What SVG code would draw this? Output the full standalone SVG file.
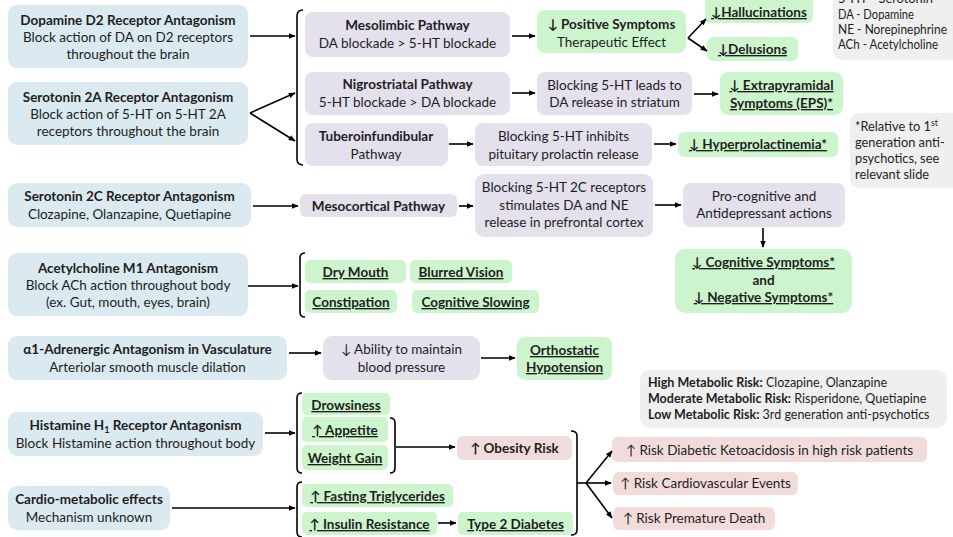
<svg xmlns="http://www.w3.org/2000/svg" width="953" height="537" viewBox="0 0 953 537">
<defs>
<marker id="ah" viewBox="0 0 10 10" refX="9" refY="5" markerWidth="7" markerHeight="7" markerUnits="userSpaceOnUse" orient="auto">
<path d="M0,1 L10,5 L0,9 z" fill="#000"/>
</marker>
<style>
text{font-family:Lato,"Liberation Sans",sans-serif;font-size:13.5px;fill:#1e1e1e;text-anchor:middle}
.b{font-weight:bold}
.u{font-weight:bold;text-decoration:underline}
.l{text-anchor:start}
.sm{font-size:12.5px}
.ns{font-size:12.8px}
.blue{fill:#dbe9f0}
.pur{fill:#e4e0ec}
.grn{fill:#cdf5cd}
.pnk{fill:#f2dcdb}
.gry{fill:#efefef}
.c{stroke:#000;stroke-width:1.6;fill:none}
.a{stroke:#000;stroke-width:1.6;fill:none;marker-end:url(#ah)}
</style>
</defs>
<rect width="953" height="537" fill="#fff"/>

<g id="legend"><rect class="gry" x="833" y="-20" width="130" height="80" rx="10"/>
<text class="l" x="838" y="3" textLength="95" lengthAdjust="spacingAndGlyphs">5-HT - Serotonin</text>
<text class="l" x="838" y="19" textLength="76" lengthAdjust="spacingAndGlyphs">DA - Dopamine</text>
<text class="l" x="838" y="34" textLength="109" lengthAdjust="spacingAndGlyphs">NE - Norepinephrine</text>
<text class="l" x="838" y="49" textLength="100" lengthAdjust="spacingAndGlyphs">ACh - Acetylcholine</text></g>

<g id="n-d2"><rect class="blue" x="8" y="5" width="240" height="63" rx="9"/>
<text class="b" x="128" y="25">Dopamine D2 Receptor Antagonism</text>
<text x="128" y="42">Block action of DA on D2 receptors</text>
<text x="128" y="59">throughout the brain</text></g>

<g id="n-5ht2a"><rect class="blue" x="8" y="82" width="240" height="63" rx="9"/>
<text class="b" x="128" y="102">Serotonin 2A  Receptor Antagonism</text>
<text x="128" y="119">Block action of 5-HT on 5-HT 2A</text>
<text x="128" y="136">receptors throughout the brain</text></g>

<g id="n-5ht2c"><rect class="blue" x="8" y="183" width="243" height="44" rx="9"/>
<text class="b" x="129.5" y="201">Serotonin 2C  Receptor Antagonism</text>
<text x="129.5" y="219">Clozapine, Olanzapine, Quetiapine</text></g>

<g id="n-m1"><rect class="blue" x="8" y="253" width="240" height="63" rx="9"/>
<text class="b" x="128" y="273">Acetylcholine M1 Antagonism</text>
<text x="128" y="290">Block ACh action throughout body</text>
<text x="128" y="307">(ex. Gut, mouth, eyes, brain)</text></g>

<g id="n-a1"><rect class="blue" x="8" y="336" width="279" height="44" rx="9"/>
<text class="b" x="147.5" y="354">α1-Adrenergic Antagonism in Vasculature</text>
<text x="147.5" y="372">Arteriolar smooth muscle dilation</text></g>

<g id="n-h1"><rect class="blue" x="8" y="412" width="255" height="44" rx="9"/>
<text class="b" x="135.5" y="430">Histamine H<tspan font-size="9" dy="3">1</tspan><tspan dy="-3"> Receptor Antagonism</tspan></text>
<text x="135.5" y="448">Block Histamine action throughout body</text></g>

<g id="n-cardio"><rect class="blue" x="8" y="486" width="162" height="44" rx="9"/>
<text class="b" x="89" y="504">Cardio-metabolic effects</text>
<text x="89" y="522">Mechanism unknown</text></g>

<g id="n-mesolimbic"><rect class="pur" x="305" y="12" width="205" height="45" rx="8"/>
<text class="b" x="407.5" y="30">Mesolimbic Pathway</text>
<text x="407.5" y="48">DA blockade &gt; 5-HT blockade</text></g>

<g id="n-nigro"><rect class="pur" x="305" y="72" width="205" height="43" rx="8"/>
<text class="b" x="407.5" y="89">Nigrostriatal  Pathway</text>
<text x="407.5" y="107">5-HT  blockade &gt; DA blockade</text></g>

<g id="n-tubero"><rect class="pur" x="305" y="123" width="143" height="43" rx="8"/>
<text class="b" x="376" y="141">Tuberoinfundibular</text>
<text x="376" y="159">Pathway</text></g>

<g id="n-positive"><rect class="grn" x="537" y="10" width="149" height="43" rx="8"/>
<text class="b" x="611.5" y="29">↓ Positive Symptoms</text>
<text x="611.5" y="47">Therapeutic Effect</text></g>

<g id="n-halluc"><rect class="grn" x="705" y="-4" width="108" height="27" rx="6"/>
<text class="u" x="759" y="17">↓Hallucinations</text></g>

<g id="n-delus"><rect class="grn" x="707" y="37" width="91" height="24" rx="6"/>
<text class="u" x="752.5" y="54">↓Delusions</text></g>

<g id="n-block-leads"><rect class="pur" x="537" y="72" width="155" height="43" rx="8"/>
<text x="614.5" y="90">Blocking 5-HT leads to</text>
<text x="614.5" y="107">DA release in striatum</text></g>

<g id="n-eps"><rect class="grn" x="720" y="72" width="123" height="43" rx="8"/>
<text class="u" x="781.5" y="90">↓ Extrapyramidal</text>
<text class="u" x="781.5" y="108">Symptoms (EPS)*</text></g>

<g id="n-block-inhibits"><rect class="pur" x="475" y="123" width="177" height="43" rx="8"/>
<text x="563.5" y="141">Blocking 5-HT inhibits</text>
<text x="563.5" y="159">pituitary prolactin release</text></g>

<g id="n-hyperprol"><rect class="grn" x="678" y="132" width="160" height="25" rx="6"/>
<text class="u" x="758" y="149">↓ Hyperprolactinemia*</text></g>

<g id="note"><rect class="gry" x="850" y="113" width="112" height="75" rx="9"/>
<text class="l ns" x="855" y="131">*Relative to 1<tspan font-size="8.5" dy="-5">st</tspan></text>
<text class="l ns" x="855" y="147">generation anti-</text>
<text class="l ns" x="855" y="163">psychotics, see</text>
<text class="l ns" x="855" y="179">relevant slide</text></g>

<g id="n-mesocortical"><rect class="pur" x="300" y="194" width="157" height="23" rx="6"/>
<text class="b" x="378.5" y="211">Mesocortical  Pathway</text></g>

<g id="n-block-2c"><rect class="pur" x="475" y="174" width="178" height="63" rx="9"/>
<text x="564" y="192">Blocking 5-HT 2C receptors</text>
<text x="564" y="210">stimulates DA and NE</text>
<text x="564" y="227">release in prefrontal cortex</text></g>

<g id="n-procog"><rect class="pur" x="683" y="183" width="162" height="44" rx="8"/>
<text x="764" y="201">Pro-cognitive and</text>
<text x="764" y="218">Antidepressant actions</text></g>

<g id="n-cogneg"><rect class="grn" x="675" y="249" width="177" height="64" rx="10"/>
<text class="u" x="763.5" y="267">↓ Cognitive Symptoms*</text>
<text class="b" x="763.5" y="285">and</text>
<text class="u" x="763.5" y="302">↓ Negative Symptoms*</text></g>

<g id="n-drymouth"><rect class="grn" x="305" y="260" width="101" height="23" rx="5"/>
<text class="u" x="355.5" y="277">Dry Mouth</text></g>
<g id="n-blurred"><rect class="grn" x="410" y="260" width="102" height="23" rx="5"/>
<text class="u" x="461" y="277">Blurred Vision</text></g>
<g id="n-constip"><rect class="grn" x="305" y="290" width="92" height="23" rx="5"/>
<text class="u" x="351" y="307">Constipation</text></g>
<g id="n-cogslow"><rect class="grn" x="412" y="290" width="127" height="23" rx="5"/>
<text class="u" x="475.5" y="307">Cognitive Slowing</text></g>

<g id="n-bp"><rect class="pur" x="323" y="336" width="157" height="44" rx="9"/>
<text x="401.5" y="354">↓ Ability to maintain</text>
<text x="401.5" y="372">blood pressure</text></g>

<g id="n-orthostatic"><rect class="grn" x="517" y="337" width="95" height="43" rx="8"/>
<text class="u" x="564.5" y="355">Orthostatic</text>
<text class="u" x="564.5" y="372">Hypotension</text></g>

<g id="metabolic-risk"><rect class="gry" x="640" y="370" width="307" height="58" rx="10"/>
<text class="l sm" x="648" y="387"><tspan font-weight="bold">High Metabolic Risk:</tspan> Clozapine, Olanzapine</text>
<text class="l sm" x="648" y="403"><tspan font-weight="bold">Moderate Metabolic Risk:</tspan> Risperidone, Quetiapine</text>
<text class="l sm" x="648" y="419"><tspan font-weight="bold">Low Metabolic Risk:</tspan> 3rd generation anti-psychotics</text></g>

<g id="n-drowsy"><rect class="grn" x="302" y="393" width="88" height="22" rx="5"/>
<text class="u" x="346" y="410">Drowsiness</text></g>
<g id="n-appetite"><rect class="grn" x="302" y="417" width="86" height="25" rx="5"/>
<text class="u" x="345" y="435">↑ Appetite</text></g>
<g id="n-weight"><rect class="grn" x="302" y="445" width="86" height="25" rx="5"/>
<text class="u" x="345" y="463">Weight Gain</text></g>

<g id="n-obesity"><rect class="pnk" x="457" y="436" width="115" height="24" rx="6"/>
<text class="b" x="514.5" y="453">↑ Obesity Risk</text></g>

<g id="n-trig"><rect class="grn" x="302" y="484" width="151" height="23" rx="5"/>
<text class="u" x="377.5" y="501">↑ Fasting Triglycerides</text></g>
<g id="n-insulin"><rect class="grn" x="302" y="512" width="135" height="23" rx="5"/>
<text class="u" x="369.5" y="529">↑ Insulin Resistance</text></g>
<g id="n-t2d"><rect class="grn" x="458" y="512" width="115" height="23" rx="5"/>
<text class="u" x="515.5" y="529">Type 2 Diabetes</text></g>

<g id="n-dka"><rect class="pnk" x="612" y="437" width="315" height="25" rx="6"/>
<text x="769.5" y="455">↑ Risk Diabetic Ketoacidosis in high risk patients</text></g>
<g id="n-cv"><rect class="pnk" x="613" y="472" width="185" height="23" rx="6"/>
<text x="705.5" y="488">↑ Risk Cardiovascular Events</text></g>
<g id="n-death"><rect class="pnk" x="613" y="507" width="162" height="23" rx="6"/>
<text x="694" y="523">↑ Risk Premature Death</text></g>

<g id="connectors">
<path class="c" d="M303,10 Q297,10 297,16 V159 Q297,165 303,165"/>
<path class="a" d="M250,36 H295"/>
<path class="a" d="M250,113 L295,93"/>
<path class="a" d="M250,113 L295,141"/>
<path class="a" d="M512,36 H535"/>
<path class="a" d="M512,93 H535"/>
<path class="a" d="M449,144 H473"/>
<path class="a" d="M688,38 L706,19"/>
<path class="a" d="M688,38 L707,51"/>
<path class="a" d="M694,94 H718"/>
<path class="a" d="M654,144 H676"/>
<path class="a" d="M253,206 H298"/>
<path class="a" d="M459,206 H473"/>
<path class="a" d="M655,205 H681"/>
<path class="a" d="M763,228 V247"/>
<path class="c" d="M305,253 Q300,253 300,258 V312 Q300,317 305,317"/>
<path class="a" d="M248,286 H298"/>
<path class="a" d="M289,353 H321"/>
<path class="a" d="M481,358 H515"/>
<path class="c" d="M302,393 Q297,393 297,398 V468 Q297,473 302,473"/>
<path class="a" d="M265,433 H295"/>
<path class="c" d="M390,418 Q395,418 395,423 V468 Q395,473 390,473"/>
<path class="a" d="M396,447 H455"/>
<path class="c" d="M302,482 Q297,482 297,487 V532 Q297,537 302,537"/>
<path class="a" d="M172,508 H295"/>
<path class="a" d="M438,523 H456"/>
<path class="c" d="M571,431 Q577,431 577,436 V530 Q577,535 571,535"/>
<path class="c" d="M577,483 H586"/>
<path class="a" d="M586,483 L612,451"/>
<path class="a" d="M586,483 H611"/>
<path class="a" d="M586,483 L612,518"/>
</g>
</svg>
